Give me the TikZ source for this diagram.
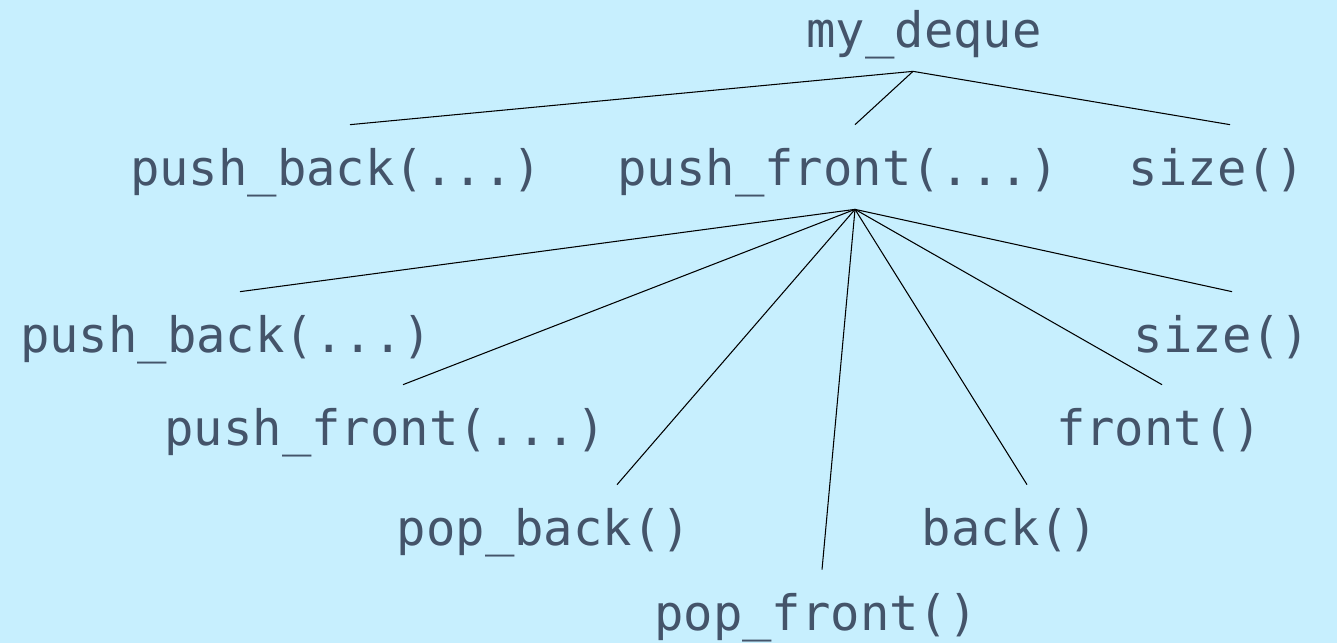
\documentclass[tikz,border=0pt]{standalone}
\usepackage{fontspec}
\setmonofont{DejaVu Sans Mono}
\usepackage{xcolor}
\usetikzlibrary{positioning}
\definecolor{skyBg}{RGB}{199,239,254}
\definecolor{slateText}{RGB}{68,84,106}

\begin{document}
\begin{tikzpicture}[
  call/.style={anchor=base, text=slateText, inner xsep=0pt, inner ysep=0.48cm,
               text height=0.72cm, text depth=0pt,
               font=\ttfamily\fontsize{27.8}{30}\selectfont},
  edge/.style={black, line width=0.6pt}
]
% background
\fill[skyBg] (0,0) rectangle (26.74,-12.86);
\useasboundingbox (0,0) rectangle (26.74,-12.86);

% Root
\node[call] (deque) at (18.48,-0.94) {my\_deque};
% First level
\node[call] (pushback1) at (6.72,-3.70) {push\_back(...)};
\node[call] (pushfront1) at (16.76,-3.70) {push\_front(...)};
\node[call] (size1) at (24.34,-3.70) {size()};
% Second level, under push_front
\node[call] (pushback2) at (4.52,-7.04) {push\_back(...)};
\node[call] (size2) at (24.44,-7.04) {size()};
\node[call] (pushfront2) at (7.70,-8.90) {push\_front(...)};
\node[call] (front) at (23.18,-8.90) {front()};
\node[call] (popback) at (10.88,-10.90) {pop\_back()};
\node[call] (back) at (20.20,-10.90) {back()};
\node[call] (popfront) at (16.32,-12.60) {pop\_front()};

\draw[edge] ([xshift=-0.22cm]deque.south) -- ([xshift=0.28cm]pushback1.north);
\draw[edge] ([xshift=-0.22cm]deque.south) -- ([xshift=0.34cm]pushfront1.north);
\draw[edge] ([xshift=-0.22cm]deque.south) -- ([xshift=0.26cm]size1.north);

\draw[edge] ([xshift=0.34cm]pushfront1.south) -- ([xshift=0.28cm]pushback2.north);
\draw[edge] ([xshift=0.34cm]pushfront1.south) -- ([xshift=0.36cm]pushfront2.north);
\draw[edge] ([xshift=0.34cm]pushfront1.south) -- ([xshift=1.46cm]popback.north);
\draw[edge] ([xshift=0.34cm]pushfront1.south) -- ([xshift=0.12cm]popfront.north);
\draw[edge] ([xshift=0.34cm]pushfront1.south) -- ([xshift=0.34cm]back.north);
\draw[edge] ([xshift=0.34cm]pushfront1.south) -- ([xshift=0.06cm]front.north);
\draw[edge] ([xshift=0.34cm]pushfront1.south) -- ([xshift=0.20cm]size2.north);

\end{tikzpicture}
\end{document}
